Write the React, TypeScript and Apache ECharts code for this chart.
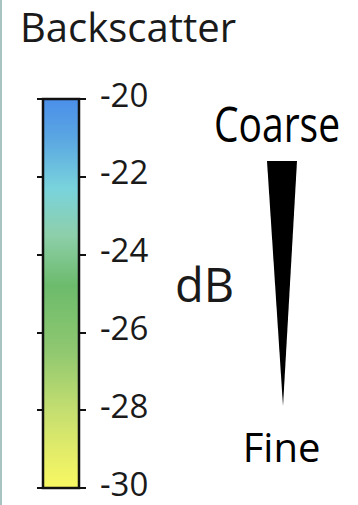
import React, { useEffect, useRef } from "react";
import * as echarts from "echarts";

// Colour scale (dB)
const scaleMin = -30;
const scaleMax = -20;
const tickInterval = 2;
const stopValues = [-20, -21, -22.3, -23.5, -24.8, -26.5, -28, -29.2, -30];
const stopColors = ["#4b8fea", "#5aa6e2", "#79d3dc", "#8dcfaa", "#6cbb6c", "#90c870", "#c4de70", "#e6ee68", "#f8f862"];
const barSpan = [[0, scaleMin, scaleMax]];

const titleText = "Backscatter";
const unitText = "dB";
const coarseText = "Coarse";
const fineText = "Fine";

const FONT = "'Open Sans', 'Noto Sans', sans-serif";

export default function App() {
  const ref = useRef<HTMLDivElement>(null);
  useEffect(() => {
    if (!ref.current) return;
    const chart = echarts.init(ref.current, null, { renderer: "svg" });
    const stops = stopValues.map((v, i) => ({
      offset: (scaleMax - v) / (scaleMax - scaleMin),
      color: stopColors[i],
    }));
    const option = {
      animation: false,
      backgroundColor: "#ffffff",
      grid: { left: 43, top: 99, width: 36, height: 389, show: false },
      xAxis: { type: "value", min: 0, max: 1, show: false },
      yAxis: [
        {
          type: "value",
          position: "right",
          min: scaleMin,
          max: scaleMax,
          interval: tickInterval,
          axisLine: { show: true, lineStyle: { color: "#111", width: 2 } },
          axisTick: { show: true, inside: true, length: 6, lineStyle: { color: "#111", width: 2 } },
          axisLabel: { show: false },
          splitLine: { show: false },
        },
        {
          type: "value",
          position: "right",
          min: scaleMin,
          max: scaleMax,
          interval: tickInterval,
          axisLine: { show: false },
          axisTick: { show: true, inside: false, length: 7, lineStyle: { color: "#111", width: 2 } },
          axisLabel: {
            show: true,
            margin: 21,
            fontSize: 33,
            lineHeight: 10,
            verticalAlign: "bottom",
            fontFamily: FONT,
            color: "#1a1a1a",
          },
          splitLine: { show: false },
        },
      ],
      series: [
        {
          type: "custom",
          xAxisIndex: 0,
          yAxisIndex: 0,
          data: barSpan,
          z: 1,
          renderItem: (params: any, api: any) => {
            const p1 = api.coord([0, api.value(2)]);
            const p2 = api.coord([1, api.value(1)]);
            return {
              type: "rect",
              shape: { x: p1[0], y: p1[1], width: p2[0] - p1[0], height: p2[1] - p1[1] },
              style: {
                fill: new echarts.graphic.LinearGradient(0, 0, 0, 1, stops),
                stroke: "#111",
                lineWidth: 2.5,
              },
            };
          },
        },
      ],
      graphic: [
        { type: "rect", shape: { x: 0, y: 0, width: 2, height: 505 }, style: { fill: "#a8c4c2" } },
        {
          type: "text",
          x: 20,
          y: 26,
          style: { text: titleText, x: 0, y: 0, fontSize: 40, fontFamily: FONT, fill: "#1a1a1a", align: "left", verticalAlign: "middle" },
        },
        {
          type: "text",
          x: 175,
          y: 284,
          style: { text: unitText, x: 0, y: 0, fontSize: 47, fontFamily: FONT, fill: "#1a1a1a", align: "left", verticalAlign: "middle" },
        },
        {
          type: "text",
          x: 277,
          y: 123,
          scaleY: 1.27,
          style: { text: coarseText, x: 0, y: 0, fontSize: 39, fontFamily: FONT, fill: "#000", align: "center", verticalAlign: "middle" },
        },
        {
          type: "polygon",
          shape: { points: [[267, 161], [297, 161], [283, 406]] },
          style: { fill: "#000" },
        },
        {
          type: "text",
          x: 281.5,
          y: 446,
          style: { text: fineText, x: 0, y: 0, fontSize: 40, fontFamily: FONT, fill: "#000", align: "center", verticalAlign: "middle" },
        },
      ],
    };
    chart.setOption(option as any);
    return () => chart.dispose();
  }, []);
  return (
    <div
      ref={ref}
      style={{ position: "fixed", left: 0, top: 0, width: 358, height: 505, background: "#fff" }}
    />
  );
}
